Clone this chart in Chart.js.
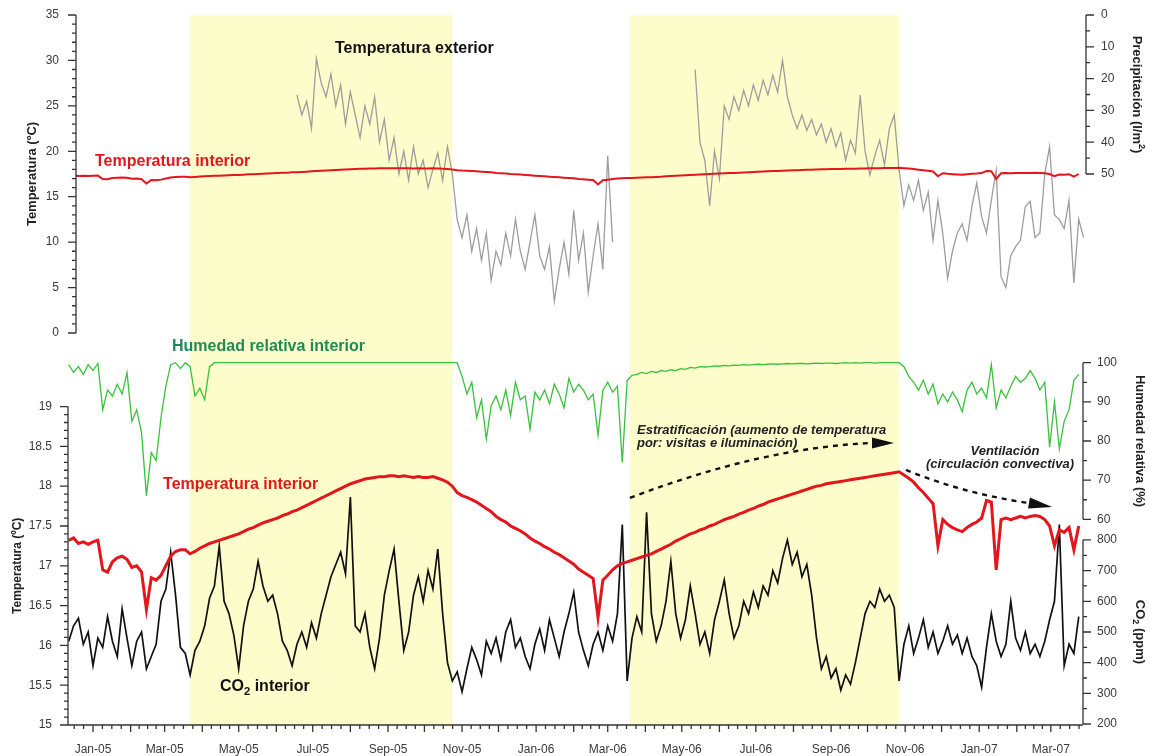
<!DOCTYPE html>
<html>
<head>
<meta charset="utf-8">
<title>Temperatura, humedad y CO2</title>
<script src="https://cdn.jsdelivr.net/npm/chart.js@4.4.1/dist/chart.umd.min.js"></script>
<style>
  html, body { margin: 0; padding: 0; background: #fff; }
  #wrap { position: relative; width: 1150px; height: 756px; overflow: hidden; background: #fff; }
  #wrap canvas { position: absolute; left: 0; top: 0; }
  #lower { z-index: 1; }
  #upper { z-index: 2; }
</style>
</head>
<body>
<div id="wrap">
  <canvas id="lower" width="1150" height="756"></canvas>
  <canvas id="upper" width="1150" height="756"></canvas>
</div>
<script>
// ---- Readings: one sample every 4 days from 12 Dec 2004 ----
const SAMPLE_START = '2004-12-12';
const SAMPLE_STEP_DAYS = 4;

// Interior air temperature (ºC)
const indoorTemp = [
  17.32, 17.35, 17.28, 17.30, 17.27, 17.30, 17.32, 16.95, 16.92, 17.05,
  17.10, 17.12, 17.08, 16.98, 17.00, 16.92, 16.45, 16.85, 16.82, 16.88,
  17.00, 17.12, 17.18, 17.20, 17.20, 17.15, 17.18, 17.22, 17.25, 17.28,
  17.30, 17.32, 17.34, 17.36, 17.38, 17.40, 17.43, 17.46, 17.48, 17.51,
  17.54, 17.56, 17.58, 17.60, 17.63, 17.65, 17.68, 17.70, 17.73, 17.76,
  17.79, 17.82, 17.85, 17.88, 17.91, 17.94, 17.97, 18.00, 18.03, 18.05,
  18.07, 18.09, 18.10, 18.11, 18.12, 18.12, 18.13, 18.13, 18.12, 18.13,
  18.12, 18.11, 18.12, 18.11, 18.11, 18.12, 18.10, 18.08, 18.05, 18.00,
  17.92, 17.88, 17.86, 17.83, 17.80, 17.76, 17.72, 17.68, 17.62, 17.58,
  17.55, 17.50, 17.47, 17.44, 17.40, 17.35, 17.31, 17.28, 17.24, 17.21,
  17.17, 17.14, 17.10, 17.06, 17.02, 16.96, 16.92, 16.88, 16.84, 16.35,
  16.82, 16.88, 16.95, 17.00, 17.03, 17.05, 17.07, 17.09, 17.11, 17.13,
  17.15, 17.18, 17.21, 17.24, 17.27, 17.31, 17.34, 17.37, 17.40, 17.42,
  17.45, 17.47, 17.50, 17.52, 17.55, 17.58, 17.60, 17.62, 17.65, 17.67,
  17.70, 17.72, 17.75, 17.77, 17.80, 17.82, 17.84, 17.86, 17.88, 17.90,
  17.92, 17.94, 17.96, 17.98, 18.00, 18.01, 18.03, 18.04, 18.05, 18.06,
  18.07, 18.08, 18.09, 18.10, 18.11, 18.12, 18.13, 18.14, 18.15, 18.16,
  18.17, 18.18, 18.14, 18.10, 18.05, 17.98, 17.92, 17.85, 17.78, 17.25,
  17.58, 17.52, 17.48, 17.45, 17.43, 17.48, 17.52, 17.55, 17.60, 17.82,
  17.80, 16.95, 17.58, 17.60, 17.58, 17.60, 17.62, 17.60, 17.62, 17.63,
  17.62, 17.58, 17.50, 17.25, 17.45, 17.42, 17.48, 17.20, 17.50, null
];

// Exterior air temperature (ºC); null where no record exists
const outdoorTemp = [
  null, null, null, null, null, null, null, null, null, null,
  null, null, null, null, null, null, null, null, null, null,
  null, null, null, null, null, null, null, null, null, null,
  null, null, null, null, null, null, null, null, null, null,
  null, null, null, null, null, null, null, 26.2, 24.0, 25.5,
  22.5, 30.2, 27.5, 26.0, 28.5, 25.0, 27.3, 23.0, 26.5, 24.0,
  21.5, 25.0, 23.0, 26.0, 21.0, 23.5, 19.0, 21.5, 17.5, 20.0,
  16.8, 20.5, 17.5, 19.0, 16.0, 18.0, 19.8, 16.8, 20.5, 17.5,
  12.5, 10.5, 13.0, 9.0, 11.5, 8.0, 11.0, 5.8, 9.0, 7.5,
  11.0, 8.5, 12.5, 9.0, 7.0, 10.0, 13.0, 8.5, 7.0, 9.5,
  3.5, 7.0, 10.0, 6.5, 13.5, 8.0, 11.0, 4.5, 8.5, 12.0,
  7.0, 19.5, 10.0, null, null, null, null, null, null, null,
  null, null, null, null, null, null, null, null, null, 29.0,
  21.0, 19.0, 14.0, 20.0, 17.0, 25.0, 23.5, 26.0, 24.5, 26.7,
  25.0, 27.3, 25.6, 27.8, 26.2, 28.4, 26.5, 30.0, 26.0, 24.0,
  22.5, 24.0, 22.3, 23.5, 21.8, 23.0, 21.0, 22.5, 20.5, 22.0,
  19.0, 21.2, 19.8, 26.2, 20.0, 17.4, 19.5, 21.2, 18.5, 22.5,
  24.0, 18.0, 14.0, 16.3, 14.6, 16.8, 13.5, 15.5, 10.2, 14.6,
  11.0, 6.0, 9.0, 11.0, 12.0, 10.2, 13.9, 16.5, 12.8, 11.0,
  14.6, 17.9, 6.2, 5.0, 8.5, 9.5, 10.2, 13.9, 14.5, 10.5,
  11.0, 17.5, 20.5, 13.0, 12.5, 11.5, 14.6, 5.5, 12.5, 10.5
];

// Interior relative humidity (%)
const humidity = [
  99.5, 97.5, 99.0, 97.0, 99.5, 98.0, 99.8, 88.0, 93.0, 91.5,
  94.5, 92.0, 97.5, 85.0, 88.0, 82.0, 66.0, 77.0, 75.0, 86.0,
  94.0, 99.5, 100, 98.5, 100, 99.0, 91.5, 93.5, 90.5, 99.0,
  100, 100, 100, 100, 100, 100, 100, 100, 100, 100,
  100, 100, 100, 100, 100, 100, 100, 100, 100, 100,
  100, 100, 100, 100, 100, 100, 100, 100, 100, 100,
  100, 100, 100, 100, 100, 100, 100, 100, 100, 100,
  100, 100, 100, 100, 100, 100, 100, 100, 100, 100,
  100, 96.5, 92.0, 95.0, 86.0, 90.5, 80.5, 89.0, 91.5, 88.0,
  93.0, 86.5, 95.0, 90.5, 91.5, 83.0, 92.5, 90.5, 93.0, 89.5,
  94.5, 92.0, 88.5, 96.0, 92.5, 94.5, 93.0, 90.5, 92.0, 81.5,
  93.0, 95.0, 92.5, 94.0, 74.5, 95.5, 96.8, 97.0, 97.5, 97.2,
  97.8, 97.5, 98.0, 97.8, 98.2, 98.0, 98.5, 98.3, 98.8, 98.6,
  99.0, 98.9, 99.0, 99.2, 99.1, 99.3, 99.2, 99.4, 99.3, 99.5,
  99.4, 99.5, 99.6, 99.5, 99.6, 99.7, 99.6, 99.7, 99.8, 99.7,
  99.8, 99.8, 99.7, 99.8, 99.9, 99.8, 99.9, 99.9, 99.8, 99.9,
  100, 99.9, 100, 99.9, 100, 100, 99.9, 100, 100, 100,
  100, 100, 99.0, 96.5, 95.0, 93.0, 95.5, 92.0, 94.5, 89.5,
  92.0, 90.0, 92.5, 90.5, 87.5, 93.0, 95.0, 92.0, 93.5, 91.0,
  99.5, 88.5, 93.0, 91.0, 94.0, 96.5, 95.0, 96.0, 98.0, 96.0,
  93.0, 95.0, 78.5, 90.0, 78.0, 85.0, 88.0, 95.5, 97.0, null
];

// Interior CO2 concentration (ppm)
const co2 = [
  470, 520, 545, 460, 500, 390, 480, 450, 550, 470,
  420, 575, 480, 390, 470, 500, 380, 420, 460, 600,
  640, 760, 620, 450, 430, 360, 440, 470, 520, 610,
  650, 780, 600, 560, 490, 380, 520, 600, 640, 730,
  650, 600, 620, 560, 470, 440, 390, 460, 500, 450,
  530, 480, 560, 620, 680, 720, 760, 690, 940, 520,
  500, 560, 450, 380, 480, 620, 700, 770, 600, 440,
  500, 620, 680, 600, 700, 640, 770, 560, 400, 340,
  370, 305, 380, 450, 410, 360, 470, 430, 480, 410,
  500, 540, 450, 480, 420, 380, 460, 510, 440, 540,
  480, 420, 500, 560, 630, 500, 440, 390, 460, 500,
  440, 520, 470, 560, 850, 340, 480, 550, 500, 890,
  560, 470, 520, 600, 730, 560, 480, 540, 650, 560,
  460, 500, 430, 540, 600, 670, 560, 480, 520, 600,
  560, 630, 580, 650, 620, 700, 660, 740, 800, 720,
  760, 680, 720, 620, 480, 380, 420, 350, 380, 310,
  360, 330, 400, 480, 560, 600, 580, 640, 600, 620,
  580, 340, 460, 520, 430, 480, 540, 450, 500, 430,
  470, 520, 460, 490, 430, 480, 420, 390, 320, 450,
  560, 470, 420, 460, 600, 480, 440, 500, 430, 460,
  420, 470, 540, 600, 850, 390, 460, 430, 550, null
];

// Month labels on the time axis
const xTickLabels = ['Jan-05', 'Mar-05', 'May-05', 'Jul-05', 'Sep-05', 'Nov-05', 'Jan-06',
                     'Mar-06', 'May-06', 'Jul-06', 'Sep-06', 'Nov-06', 'Jan-07', 'Mar-07'];

// Shaded periods (start, end)
const shadedPeriods = [['2005-03-22', '2005-10-24'], ['2006-03-19', '2006-10-27']];

// ---- helpers ----
const ORIGIN_UTC = Date.UTC(2005, 0, 1);
const MS_PER_DAY = 86400000;
const dayOf = iso => { const [y, m, d] = iso.split('-').map(Number); return (Date.UTC(y, m - 1, d) - ORIGIN_UTC) / MS_PER_DAY; };
const monthStart = (y, m) => (Date.UTC(y, m, 1) - ORIGIN_UTC) / MS_PER_DAY;
const MONTHS = ['Jan', 'Feb', 'Mar', 'Apr', 'May', 'Jun', 'Jul', 'Aug', 'Sep', 'Oct', 'Nov', 'Dec'];
const labelDay = lbl => { const [mon, yy] = lbl.split('-'); return monthStart(2000 + Number(yy), MONTHS.indexOf(mon)); };
const firstDay = dayOf(SAMPLE_START);
const toPoints = arr => arr.map((v, i) => ({ x: firstDay + i * SAMPLE_STEP_DAYS, y: v }));

const FONT = "'Liberation Sans', Arial, Helvetica, sans-serif";
const cssFont = (size, weight = 'normal', style = 'normal') => `${style} ${weight} ${size}px ${FONT}`;
const AXIS_COLOR = '#333';
const TEXT_COLOR = '#222';
const RED = '#e3161c';

Chart.defaults.font.family = FONT;

function parseRich(text) {
  const segs = []; const re = /\{([_^])([^}]*)\}/g; let last = 0, m;
  while ((m = re.exec(text))) {
    if (m.index > last) segs.push({ t: text.slice(last, m.index) });
    segs.push({ t: m[2], sub: m[1] === '_', sup: m[1] === '^' });
    last = re.lastIndex;
  }
  if (last < text.length) segs.push({ t: text.slice(last) });
  return segs;
}

function drawRich(ctx, text, x, y, o) {
  const segs = parseRich(text);
  const fontFor = s => cssFont((s.sub || s.sup) ? o.size * 0.7 : o.size, o.weight || 'normal', o.style || 'normal');
  let total = 0;
  for (const s of segs) { ctx.font = fontFor(s); total += ctx.measureText(s.t).width; }
  ctx.save();
  ctx.translate(x, y);
  if (o.rotation) ctx.rotate(o.rotation);
  let cx = o.align === 'center' ? -total / 2 : o.align === 'right' ? -total : 0;
  ctx.fillStyle = o.color; ctx.textBaseline = 'middle'; ctx.textAlign = 'left';
  for (const s of segs) {
    ctx.font = fontFor(s);
    const dy = s.sub ? o.size * 0.32 : s.sup ? -o.size * 0.35 : 0;
    ctx.fillText(s.t, cx, dy);
    cx += ctx.measureText(s.t).width;
  }
  ctx.restore();
}

// Axis lines, major/minor ticks and axis titles
const framePlugin = {
  id: 'frame',
  afterDraw(chart, _args, opts) {
    const ctx = chart.ctx;
    ctx.save();
    ctx.strokeStyle = AXIS_COLOR; ctx.lineWidth = 1.3;
    for (const a of opts.axes) {
      const s = chart.scales[a.id];
      const dir = a.side === 'left' ? -1 : 1;
      const x0 = a.side === 'left' ? s.right : s.left;
      const y0 = s.getPixelForValue(a.from), y1 = s.getPixelForValue(a.to);
      ctx.beginPath(); ctx.moveTo(x0, y0); ctx.lineTo(x0, y1); ctx.stroke();
      const n = Math.round((a.to - a.from) / a.minor);
      const every = Math.round(a.major / a.minor);
      ctx.beginPath();
      for (let k = 0; k <= n; k++) {
        const y = s.getPixelForValue(a.from + k * a.minor);
        ctx.moveTo(x0, y); ctx.lineTo(x0 + dir * (k % every === 0 ? 8 : 4), y);
      }
      ctx.stroke();
      drawRich(ctx, a.title, x0 + dir * a.titleGap, (y0 + y1) / 2,
        { size: a.titleSize, weight: 'bold', color: TEXT_COLOR, align: 'center', rotation: dir * Math.PI / 2 });
    }
    if (opts.timeAxis) {
      const xs = chart.scales.x; const yb = chart.chartArea.bottom;
      ctx.beginPath(); ctx.moveTo(xs.left, yb); ctx.lineTo(xs.right, yb); ctx.stroke();
      ctx.beginPath();
      for (let k = 0; k < 29; k++) {
        const y = 2004 + Math.floor((11 + k) / 12), m = (11 + k) % 12;
        const a = monthStart(y, m), b = monthStart(m === 11 ? y + 1 : y, (m + 1) % 12);
        for (let q = 0; q < 4; q++) {
          const d = a + q * (b - a) / 4;
          if (d < xs.min || d > xs.max) continue;
          const px = xs.getPixelForValue(d);
          ctx.moveTo(px, yb); ctx.lineTo(px, yb + (q === 0 ? 7 : 4));
        }
      }
      ctx.stroke();
    }
    ctx.restore();
  }
};

// Text labels and dashed arrows placed in data coordinates
const notesPlugin = {
  id: 'notes',
  afterDraw(chart, _args, opts) {
    const ctx = chart.ctx; const xs = chart.scales.x;
    for (const n of opts.labels) {
      const ys = chart.scales[n.axis];
      drawRich(ctx, n.text, xs.getPixelForValue(n.day), ys.getPixelForValue(n.value),
        { size: n.size, weight: n.weight, style: n.style, color: n.color, align: n.align || 'left' });
    }
    for (const a of (opts.arrows || [])) {
      const ys = chart.scales[a.axis];
      const P = a.path.map(([d, v]) => [xs.getPixelForValue(d), ys.getPixelForValue(v)]);
      const T = [xs.getPixelForValue(a.tip[0]), ys.getPixelForValue(a.tip[1])];
      ctx.save();
      ctx.strokeStyle = '#111'; ctx.lineWidth = 2.4; ctx.setLineDash([5, 5]);
      ctx.beginPath(); ctx.moveTo(P[0][0], P[0][1]);
      ctx.quadraticCurveTo(P[1][0], P[1][1], P[2][0], P[2][1]);
      ctx.stroke();
      ctx.setLineDash([]);
      const ang = Math.atan2(T[1] - P[2][1], T[0] - P[2][0]);
      const hw = 5.5;
      ctx.fillStyle = '#111';
      ctx.beginPath();
      ctx.moveTo(T[0], T[1]);
      ctx.lineTo(P[2][0] + Math.sin(ang) * hw, P[2][1] - Math.cos(ang) * hw);
      ctx.lineTo(P[2][0] - Math.sin(ang) * hw, P[2][1] + Math.cos(ang) * hw);
      ctx.closePath(); ctx.fill();
      ctx.restore();
    }
  }
};

// Nudge the layout padding so the plot area lands exactly on the wanted edges
function settleArea(chart, want) {
  const pad = chart.options.layout.padding;
  let changed = false;
  for (const side of ['top', 'bottom']) {
    if (want[side] === undefined) continue;
    const diff = side === 'top' ? want.top - chart.chartArea.top : chart.chartArea.bottom - want.bottom;
    if (Math.abs(diff) > 0.25) { pad[side] = Math.max(0, pad[side] + diff); changed = true; }
  }
  if (changed) chart.update();
}

const tickFont = { size: 12, family: FONT };
const TICK_COLOR = '#3a3a3a';
const fixedTicks = (from, to, step) => s => {
  const out = []; const n = Math.round((to - from) / step);
  for (let k = 0; k <= n; k++) out.push({ value: +(from + k * step).toFixed(4) });
  s.ticks = out;
};
// Tick marks are drawn by the frame plugin; the hidden tick length only sets the label gap
const gapGrid = gap => ({ display: false, drawTicks: true, tickLength: gap });
const noBorder = { display: false };
const tickOpts = extra => Object.assign({ font: tickFont, color: TICK_COLOR, padding: 0 }, extra || {});

// ---- upper panel: temperatures on 0–35 ºC, rainfall axis ----
const upperChart = new Chart(document.getElementById('upper'), {
  type: 'line',
  data: {
    datasets: [
      { label: 'Temperatura interior', data: toPoints(indoorTemp), yAxisID: 'yTemp',
        borderColor: RED, borderWidth: 2, pointRadius: 0, tension: 0 },
      { label: 'Temperatura exterior', data: toPoints(outdoorTemp), yAxisID: 'yTemp',
        borderColor: '#9d9d9d', borderWidth: 1.3, pointRadius: 0, tension: 0 }
    ]
  },
  options: {
    responsive: false, maintainAspectRatio: false, animation: false, events: [],
    layout: { padding: { top: 15, bottom: 423, left: 0, right: 0 } },
    plugins: {
      legend: { display: false }, tooltip: { enabled: false },
      frame: { axes: [
        { id: 'yTemp', side: 'left', from: 0, to: 35, major: 5, minor: 1, title: 'Temperatura (ºC)', titleGap: 44, titleSize: 13 },
        { id: 'yRain', side: 'right', from: 0, to: 50, major: 10, minor: 5, title: 'Precipitación (l/m{^2})', titleGap: 51, titleSize: 13 }
      ] },
      notes: { labels: [
        { text: 'Temperatura exterior', day: 199.3, value: 31.26, axis: 'yTemp', size: 16, weight: 'bold', color: '#111' },
        { text: 'Temperatura interior', day: 1.65, value: 18.82, axis: 'yTemp', size: 16, weight: 'bold', color: RED }
      ] }
    },
    scales: {
      x: { type: 'linear', display: false, min: -14, max: 818 },
      yTemp: { type: 'linear', position: 'left', min: 0, max: 35,
        afterBuildTicks: fixedTicks(0, 35, 5), afterFit: s => { s.width = 76; },
        ticks: tickOpts(), grid: gapGrid(17), border: noBorder },
      yRain: { type: 'linear', position: 'right', reverse: true, min: 0, max: 100,
        afterBuildTicks: fixedTicks(0, 50, 10), afterFit: s => { s.width = 64; },
        ticks: tickOpts(), grid: gapGrid(15), border: noBorder }
    }
  },
  plugins: [framePlugin, notesPlugin]
});
settleArea(upperChart, { top: 15, bottom: 333 });

// Shaded periods running through both panels
const bandsPlugin = {
  id: 'bands',
  beforeDatasetsDraw(chart, _args, opts) {
    const ctx = chart.ctx; const xs = chart.scales.x;
    const top = upperChart.scales.yTemp.getPixelForValue(35);
    const bottom = chart.chartArea.bottom;
    ctx.save(); ctx.fillStyle = opts.color;
    for (const [a, b] of shadedPeriods) {
      const x0 = xs.getPixelForValue(dayOf(a)), x1 = xs.getPixelForValue(dayOf(b));
      ctx.fillRect(x0, top, x1 - x0, bottom - top);
    }
    ctx.restore();
  }
};

// ---- lower panel: interior temperature, humidity and CO2 ----
const lowerChart = new Chart(document.getElementById('lower'), {
  type: 'line',
  data: {
    datasets: [
      { label: 'Temperatura interior', data: toPoints(indoorTemp), yAxisID: 'yTemp',
        borderColor: RED, borderWidth: 3, pointRadius: 0, tension: 0 },
      { label: 'Humedad relativa interior', data: toPoints(humidity), yAxisID: 'yHum', clip: false,
        borderColor: '#38c23c', borderWidth: 1.3, pointRadius: 0, tension: 0 },
      { label: 'CO2 interior', data: toPoints(co2), yAxisID: 'yCO2', clip: false,
        borderColor: '#111', borderWidth: 1.7, pointRadius: 0, tension: 0 }
    ]
  },
  options: {
    responsive: false, maintainAspectRatio: false, animation: false, events: [],
    layout: { padding: { top: 362, bottom: 0, left: 0, right: 0 } },
    plugins: {
      legend: { display: false }, tooltip: { enabled: false },
      bands: { color: '#fdfccb' },
      frame: { timeAxis: true, axes: [
        { id: 'yTemp', side: 'left', from: 15, to: 19, major: 0.5, minor: 0.1, title: 'Temperatura (ºC)', titleGap: 50, titleSize: 12 },
        { id: 'yHum', side: 'right', from: 60, to: 100, major: 10, minor: 5, title: 'Humedad relativa (%)', titleGap: 57, titleSize: 13 },
        { id: 'yCO2', side: 'right', from: 200, to: 800, major: 100, minor: 50, title: 'CO{_2} (ppm)', titleGap: 57, titleSize: 13 }
      ] },
      notes: {
        labels: [
          { text: 'Humedad relativa interior', day: 65.1, value: 104.0, axis: 'yHum', size: 16, weight: 'bold', color: '#1f8a55' },
          { text: 'Temperatura interior', day: 57.7, value: 18.015, axis: 'yTemp', size: 16, weight: 'bold', color: RED },
          { text: 'CO{_2} interior', day: 104.6, value: 15.477, axis: 'yTemp', size: 16, weight: 'bold', color: '#111' },
          { text: 'Estratificación (aumento de temperatura', day: 448.1, value: 18.70, axis: 'yTemp', size: 13, weight: 'bold', style: 'italic', color: TEXT_COLOR },
          { text: 'por: visitas e iluminación)', day: 448.1, value: 18.543, axis: 'yTemp', size: 13, weight: 'bold', style: 'italic', color: TEXT_COLOR },
          { text: 'Ventilación', day: 751.2, value: 18.44, axis: 'yTemp', size: 13, weight: 'bold', style: 'italic', color: TEXT_COLOR, align: 'center' },
          { text: '(circulación convectiva)', day: 747.1, value: 18.27, axis: 'yTemp', size: 13, weight: 'bold', style: 'italic', color: TEXT_COLOR, align: 'center' }
        ],
        arrows: [
          { axis: 'yTemp', path: [[442.3, 17.852], [549.4, 18.48], [641.7, 18.543]], tip: [659.8, 18.543] },
          { axis: 'yTemp', path: [[669.7, 18.204], [718.3, 17.902], [771.0, 17.789]], tip: [790.0, 17.739] }
        ]
      }
    },
    scales: {
      x: { type: 'linear', position: 'bottom', min: -20.6, max: 815.5,
        afterBuildTicks: s => { s.ticks = xTickLabels.map(l => ({ value: labelDay(l) })); },
        afterFit: s => { s.height = 31; },
        ticks: tickOpts({ autoSkip: false, maxRotation: 0,
          callback: v => xTickLabels.find(l => labelDay(l) === v) || '' }),
        grid: gapGrid(17), border: noBorder },
      yTemp: { type: 'linear', position: 'left', min: 15, max: 19.56,
        afterBuildTicks: fixedTicks(15, 19, 0.5), afterFit: s => { s.width = 68; },
        ticks: tickOpts({ callback: v => String(v) }), grid: gapGrid(16), border: noBorder },
      yHum: { type: 'linear', position: 'right', stack: 'right', stackWeight: 168, min: 57.27, max: 100.18,
        afterBuildTicks: fixedTicks(60, 100, 10), afterFit: s => { s.width = 67; },
        ticks: tickOpts(), grid: gapGrid(14), border: noBorder },
      yCO2: { type: 'linear', position: 'right', stack: 'right', stackWeight: 195, min: 196.7, max: 832.5,
        afterBuildTicks: fixedTicks(200, 800, 100), afterFit: s => { s.width = 67; },
        ticks: tickOpts(), grid: gapGrid(14), border: noBorder }
    }
  },
  plugins: [bandsPlugin, framePlugin, notesPlugin]
});
settleArea(lowerChart, { top: 362, bottom: 725 });
</script>
</body>
</html>
